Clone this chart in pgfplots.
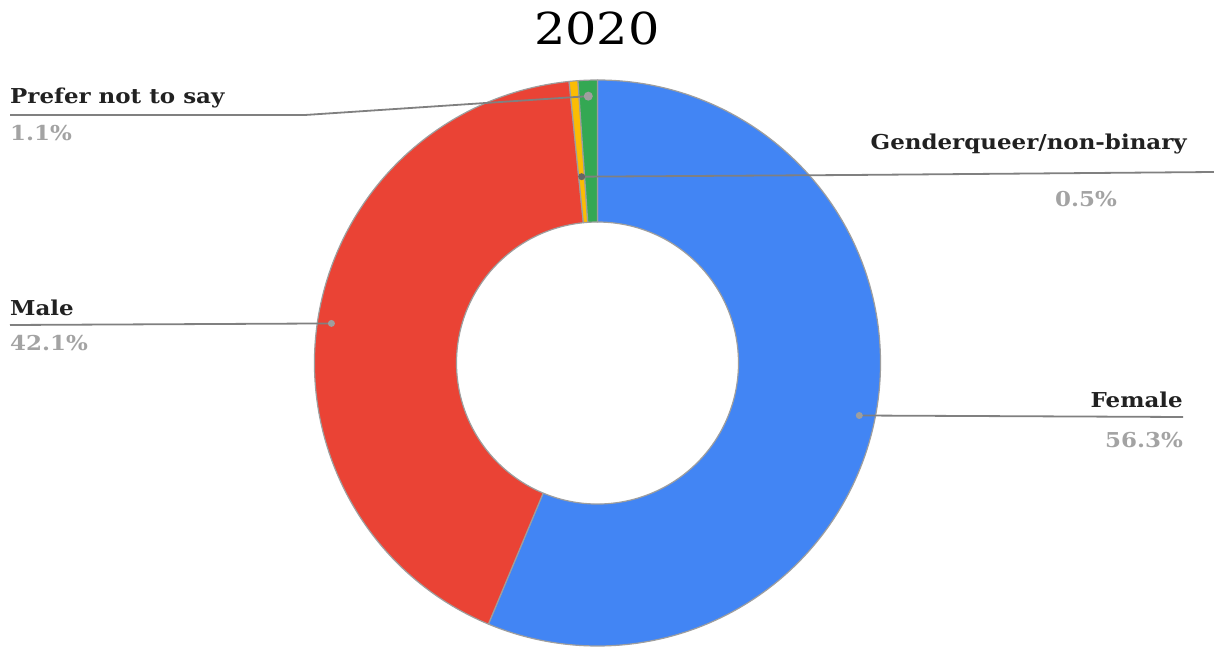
\documentclass[border=0pt]{standalone}
\usepackage{pgfplots}
\pgfplotsset{compat=1.18}
\usepackage{pgfplotstable}
\usetikzlibrary{calc}
\usepackage{fontspec}
\setmainfont{DejaVu Serif}[FakeStretch=1.12]
\definecolor{gblue}{HTML}{4285F4}
\definecolor{gred}{HTML}{EA4335}
\definecolor{gyellow}{HTML}{FBBC04}
\definecolor{ggreen}{HTML}{34A853}
\definecolor{edgegray}{HTML}{9E9E9E}
\definecolor{leadgray}{HTML}{808080}
\definecolor{pctgray}{HTML}{A3A3A3}
\definecolor{labblack}{HTML}{212121}
\pgfplotstableread{
name value col dotr
Female 56.3 gblue 267
Male 42.1 gred 269
Genderqueer 0.5 gyellow 187
Prefer 1.1 ggreen 267
}\slices
\begin{document}
\begin{tikzpicture}
\begin{axis}[scale only axis, width=1214pt, height=646pt,
  xmin=0, xmax=1214, ymin=0, ymax=646, hide axis, clip=false]
\coordinate (bbsw) at (axis cs:0,0);
\coordinate (bbne) at (axis cs:1214,646);
\def\cx{597.5}\def\cy{283}
\def\cum{0}
\pgfplotsforeachungrouped \i in {0,...,3}{%
  \pgfplotstablegetelem{\i}{value}\of\slices \let\sv\pgfplotsretval
  \pgfplotstablegetelem{\i}{col}\of\slices \let\scol\pgfplotsretval
  \pgfplotstablegetelem{\i}{dotr}\of\slices \let\sdr\pgfplotsretval
  \pgfmathsetmacro\aa{90-3.6*\cum}%
  \pgfmathsetmacro\ab{90-3.6*(\cum+\sv)}%
  \pgfmathsetmacro\am{90-3.6*(\cum+\sv/2)}%
  \pgfmathsetmacro\cum{\cum+\sv}%
  \edef\temp{\noexpand\filldraw[fill=\scol, draw=edgegray, line width=1.2pt, line join=round]
    ($(axis cs:\cx,\cy)+(\aa:283pt)$) arc[start angle=\aa, end angle=\ab, radius=283pt]
    -- ($(axis cs:\cx,\cy)+(\ab:141pt)$) arc[start angle=\ab, end angle=\aa, radius=141pt] -- cycle;
    \noexpand\coordinate (dot\i) at ($(axis cs:\cx,\cy)+(\am:\sdr pt)$);}%
  \temp
}
% leader lines
\draw[leadgray, line width=1.8pt] (dot0) -- (axis cs:1183,229);
\draw[leadgray, line width=1.8pt] (dot1) -- (axis cs:10,321);
\draw[leadgray, line width=1.8pt] (dot2) -- (axis cs:850,471) -- (axis cs:1214,474);
\draw[leadgray, line width=1.8pt] (dot3) -- (axis cs:305,531) -- (axis cs:10,531);
\fill[edgegray] (dot0) circle[radius=3.5pt];
\fill[edgegray] (dot1) circle[radius=3.5pt];
\fill[black!60] (dot2) circle[radius=3.5pt];
\fill[edgegray] (dot3) circle[radius=4.5pt];
% title and labels
\node[anchor=base, inner sep=0pt, font=\fontsize{44}{48}\selectfont] at (axis cs:597,601) {2020};
\node[anchor=base west, inner sep=0pt, text=labblack, font=\fontsize{20.5}{24}\selectfont\bfseries] at (axis cs:10,542) {Prefer not to say};
\node[anchor=base west, inner sep=0pt, text=pctgray, font=\fontsize{20.5}{24}\selectfont\bfseries] at (axis cs:10,505) {1.1\%};
\node[anchor=base east, inner sep=0pt, text=labblack, font=\fontsize{20.5}{24}\selectfont\bfseries] at (axis cs:1187,496) {Genderqueer/non-binary};
\node[anchor=base east, inner sep=0pt, text=pctgray, font=\fontsize{20.5}{24}\selectfont\bfseries] at (axis cs:1117,439) {0.5\%};
\node[anchor=base west, inner sep=0pt, text=labblack, font=\fontsize{20.5}{24}\selectfont\bfseries] at (axis cs:10,331) {Male};
\node[anchor=base west, inner sep=0pt, text=pctgray, font=\fontsize{20.5}{24}\selectfont\bfseries] at (axis cs:10,296) {42.1\%};
\node[anchor=base east, inner sep=0pt, text=labblack, font=\fontsize{20.5}{24}\selectfont\bfseries] at (axis cs:1183,239) {Female};
\node[anchor=base east, inner sep=0pt, text=pctgray, font=\fontsize{20.5}{24}\selectfont\bfseries] at (axis cs:1183,199) {56.3\%};
\end{axis}
\pgfresetboundingbox
\path[use as bounding box] (bbsw) rectangle (bbne);
\end{tikzpicture}
\end{document}
